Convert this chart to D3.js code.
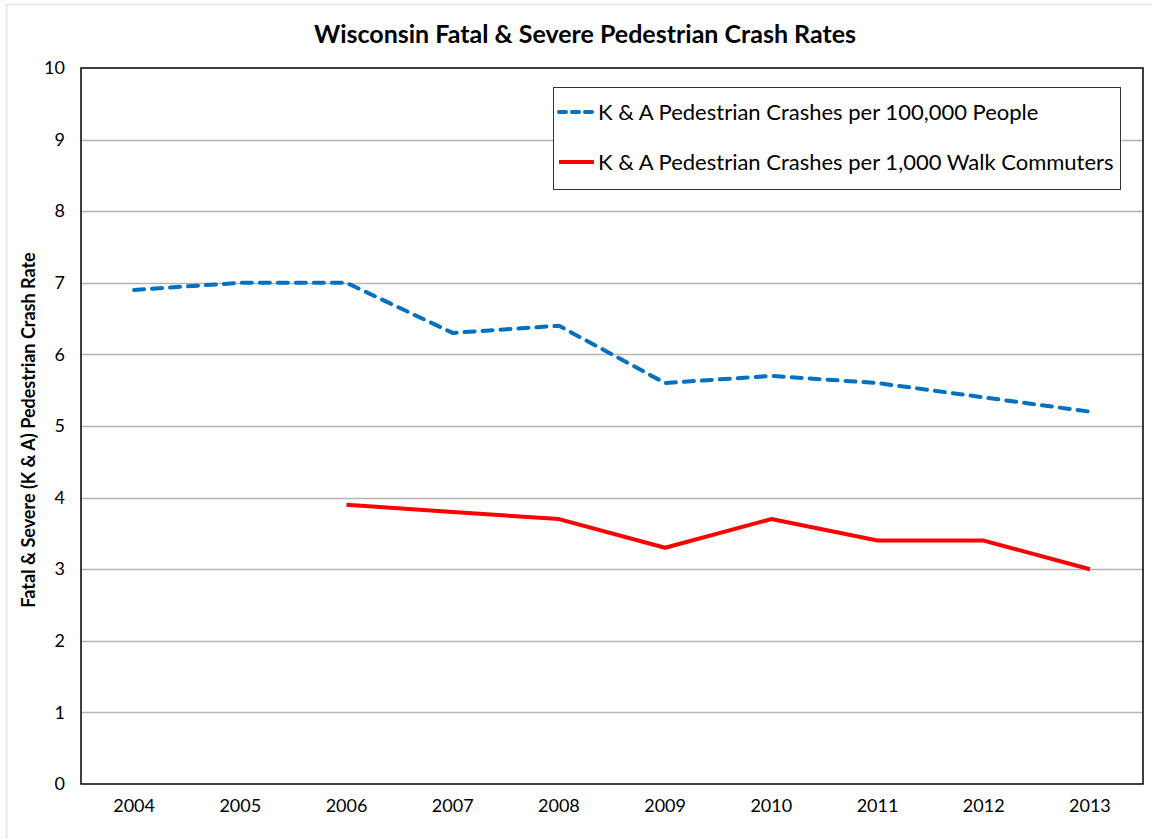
<!DOCTYPE html>
<html>
<head>
<meta charset="utf-8">
<script src="https://cdn.jsdelivr.net/npm/d3@7"></script>
<style>
  body { margin: 0; background: #fff; }
  text { font-family: Lato, "Open Sans", sans-serif; fill: #000; }
</style>
</head>
<body>
<div class="chart"></div>
<script>
/* data */
var years = ["2004","2005","2006","2007","2008","2009","2010","2011","2012","2013"];
var perPeople = [6.9, 7.0, 7.0, 6.3, 6.4, 5.6, 5.7, 5.6, 5.4, 5.2];
var perWalkers = [null, null, 3.9, 3.8, 3.7, 3.3, 3.7, 3.4, 3.4, 3.0];
var yTicks = [0,1,2,3,4,5,6,7,8,9,10];
var seriesNames = ["K & A Pedestrian Crashes per 100,000 People",
                   "K & A Pedestrian Crashes per 1,000 Walk Commuters"];

var W = 1152, H = 839;
var mLeft = 81, mTop = 68, mRight = 1143, mBottom = 784;

var svg = d3.select(".chart").append("svg")
    .attr("width", W)
    .attr("height", H);

// outer chart frame
svg.append("rect")
    .attr("x", 6.5).attr("y", 4.5)
    .attr("width", W + 10).attr("height", H + 10)
    .attr("fill", "none")
    .attr("stroke", "#e3e3e3")
    .attr("stroke-width", 1.5);

var x = d3.scaleBand().domain(years).range([mLeft, mRight]);
var y = d3.scaleLinear().domain([0, 10]).range([mBottom, mTop]);

// gridlines
svg.append("g")
  .selectAll("line")
  .data(yTicks.filter(function(d){ return d > 0 && d < 10; }))
  .enter().append("line")
    .attr("x1", mLeft).attr("x2", mRight)
    .attr("y1", function(d){ return Math.round(y(d)) + 0.5; })
    .attr("y2", function(d){ return Math.round(y(d)) + 0.5; })
    .attr("stroke", "#b4b4b4")
    .attr("stroke-width", 1.3);

// y axis
var yAxis = d3.axisLeft(y).tickValues(yTicks).tickSize(0).tickPadding(16);
var gy = svg.append("g")
    .attr("transform", "translate(" + mLeft + ",0)")
    .call(yAxis);
gy.select(".domain").remove();
gy.selectAll("text")
    .attr("font-size", 18)
    .style("font-family", "Lato, sans-serif");

// x axis
var xAxis = d3.axisBottom(x).tickSize(0).tickPadding(15);
var gx = svg.append("g")
    .attr("transform", "translate(0," + mBottom + ")")
    .call(xAxis);
gx.select(".domain").remove();
gx.selectAll("text")
    .attr("font-size", 18)
    .style("font-family", "Lato, sans-serif");

// plot border
svg.append("rect")
    .attr("x", mLeft).attr("y", mTop)
    .attr("width", mRight - mLeft).attr("height", mBottom - mTop)
    .attr("fill", "none")
    .attr("stroke", "#000")
    .attr("stroke-width", 1.5);

var cx = function(d, i){ return x(years[i]) + x.bandwidth() / 2; };

var line = d3.line()
    .defined(function(d){ return d != null; })
    .x(cx)
    .y(function(d){ return y(d); });

svg.append("path")
    .datum(perPeople)
    .attr("d", line)
    .attr("fill", "none")
    .attr("stroke", "#0070c0")
    .attr("stroke-width", 4)
    .attr("stroke-dasharray", "10,8")
    .attr("stroke-linecap", "round");

svg.append("path")
    .datum(perWalkers)
    .attr("d", line)
    .attr("fill", "none")
    .attr("stroke", "#ff0000")
    .attr("stroke-width", 4)
    .attr("stroke-linejoin", "round");

// title
svg.append("text")
    .attr("x", 585).attr("y", 43)
    .attr("text-anchor", "middle")
    .attr("font-size", 25)
    .attr("font-weight", "bold")
    .text("Wisconsin Fatal & Severe Pedestrian Crash Rates");

// y title
svg.append("text")
    .attr("transform", "translate(35,430) rotate(-90)")
    .attr("text-anchor", "middle")
    .attr("font-size", 18)
    .attr("font-weight", "bold")
    .text("Fatal & Severe (K & A) Pedestrian Crash Rate");

// legend
var legend = svg.append("g");
legend.append("rect")
    .attr("x", 553.5).attr("y", 87.5)
    .attr("width", 567).attr("height", 102)
    .attr("fill", "#fff")
    .attr("stroke", "#333")
    .attr("stroke-width", 1);

var legStyles = [
  {color: "#0070c0", dash: "7,6", cap: "round"},
  {color: "#ff0000", dash: null, cap: "butt"}
];
seriesNames.forEach(function(name, i){
  var ly = 112 + i * 50;
  legend.append("line")
      .attr("x1", 559).attr("x2", 594)
      .attr("y1", ly).attr("y2", ly)
      .attr("stroke", legStyles[i].color)
      .attr("stroke-width", 4)
      .attr("stroke-dasharray", legStyles[i].dash)
      .attr("stroke-linecap", legStyles[i].cap);
  legend.append("text")
      .attr("x", 598).attr("y", ly)
      .attr("dy", "0.35em")
      .attr("font-size", 22)
      .text(name);
});
</script>
</body>
</html>
